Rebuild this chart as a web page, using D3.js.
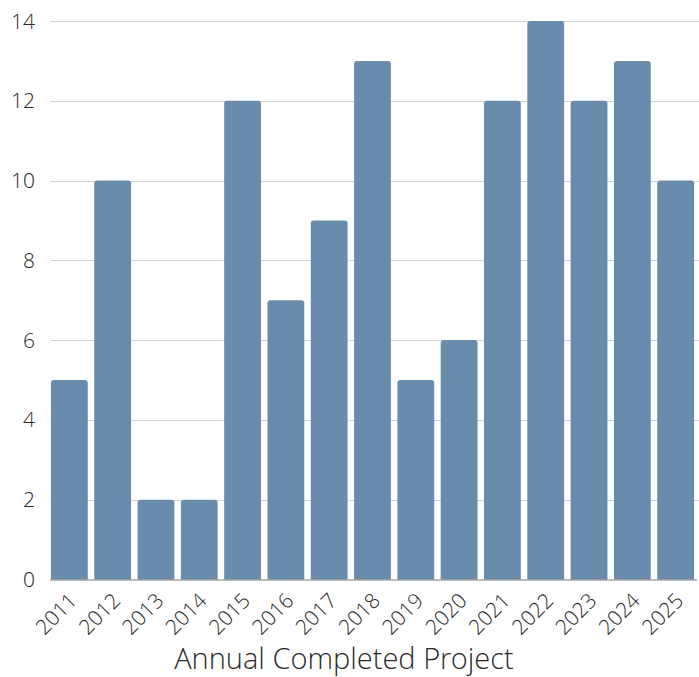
<!DOCTYPE html>
<html><head><meta charset="utf-8">
<script src="https://cdn.jsdelivr.net/npm/d3@7"></script>
<style>body{margin:0;background:#fff}svg{display:block}text{font-family:"Open Sans Light","Open Sans",sans-serif;font-weight:300;fill:#2a2a2a}</style>
</head><body>
<svg id="c" width="699" height="677"></svg>
<script>
const years = ["2011","2012","2013","2014","2015","2016","2017","2018","2019","2020","2021","2022","2023","2024","2025"];
const projects = [5,10,2,2,12,7,9,13,5,6,12,14,12,13,10];
const yTicks = [0,2,4,6,8,10,12,14];
const title = "Annual Completed Project";

const svg = d3.select("#c");
const x = d3.scaleBand().domain(years).range([47.7,697.3]).paddingInner(0.15).paddingOuter(0.075);
const y = d3.scaleLinear().domain([0,14]).range([579.4,21]);

svg.append("g").selectAll("line").data(yTicks.filter(d=>d>0)).join("line")
  .attr("x1",50.5).attr("x2",699).attr("y1",d=>Math.round(y(d))+0.5).attr("y2",d=>Math.round(y(d))+0.5)
  .attr("stroke","#d3d3d3").attr("stroke-width",1);

svg.append("g").selectAll("text").data(yTicks).join("text")
  .attr("x",35).attr("y",d=>y(d)).attr("dy","0.36em").attr("text-anchor","end")
  .style("font-size","21px").text(d=>d);

const r = 3;
svg.append("g").selectAll("path").data(years).join("path")
  .attr("fill","#6a8cac")
  .attr("d",(d,i)=>{
    const x0=x(d), x1=x0+x.bandwidth(), y0=y(projects[i]), yb=y(0);
    return `M${x0},${yb}V${y0+r}Q${x0},${y0} ${x0+r},${y0}H${x1-r}Q${x1},${y0} ${x1},${y0+r}V${yb}Z`;
  });

svg.append("line").attr("x1",50).attr("x2",697).attr("y1",580).attr("y2",580).attr("stroke","#777").attr("stroke-width",1);

svg.append("g").selectAll("text").data(years).join("text")
  .attr("text-anchor","end")
  .attr("transform",d=>`translate(${x(d)+x.bandwidth()/2+9},${602}) rotate(-45)`)
  .style("font-size","21px").text(d=>d);

svg.append("text").attr("x",344).attr("y",669).attr("text-anchor","middle")
  .style("font-size","29px").text(title);
</script>
</body></html>
